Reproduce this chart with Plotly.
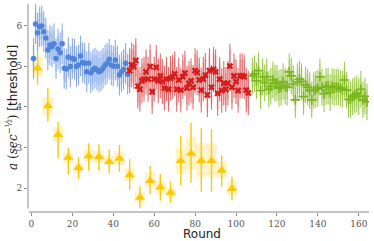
import plotly.graph_objects as go

# ---------------- data ----------------
blue_rounds = list(range(1, 48))
blue_vals = [5.19, 6.04, 5.82, 5.97, 5.99, 5.85, 5.69, 5.40, 5.52, 5.48,
             5.55, 5.19, 5.42, 5.33, 5.55, 4.95, 4.93, 5.22, 4.99, 5.19,
             5.17, 4.99, 5.03, 5.25, 5.09, 5.07, 4.86, 5.07, 4.84, 4.91,
             4.95, 4.91, 4.86, 4.89, 4.95, 5.03, 5.07, 5.17, 5.03, 5.00,
             5.15, 5.00, 4.78, 4.86, 4.92, 5.07, 4.80]
blue_err = 0.5
blue_band = 0.33

red_rounds = list(range(48, 107))
red_vals = [4.89, 5.03, 4.99, 5.14, 4.51, 4.43, 4.64, 4.68, 4.86, 4.68,
            4.99, 4.37, 4.68, 4.97, 4.64, 4.76, 4.62, 4.46, 4.68, 4.43,
            4.70, 4.74, 4.81, 4.43, 4.66, 4.41, 4.74, 4.83, 4.46, 4.58,
            4.64, 4.48, 4.89, 4.84, 4.66, 4.41, 4.68, 4.78, 4.29, 4.89,
            4.48, 4.92, 4.86, 4.33, 4.68, 4.40, 4.58, 4.43, 4.58, 5.00,
            4.48, 4.76, 4.62, 4.40, 4.76, 4.76, 4.74, 4.41, 4.34]
red_err = 0.55
red_band = 0.4

green_rounds = list(range(108, 165))
green_vals = [4.76, 4.81, 4.64, 4.89, 4.40, 4.74, 4.59, 4.74, 4.43, 4.50,
              4.66, 4.58, 4.58, 4.46, 4.48, 4.62, 4.51, 4.48, 4.86, 4.76,
              4.56, 4.17, 4.62, 4.68, 4.62, 4.25, 4.54, 4.48, 4.40, 4.17,
              4.40, 4.43, 4.46, 4.74, 4.48, 4.32, 4.50, 4.51, 4.35, 4.50,
              4.48, 4.48, 4.48, 4.46, 4.43, 4.66, 4.41, 4.18, 4.18, 4.25,
              4.29, 4.32, 4.25, 4.43, 4.17, 4.26, 4.12]
green_err = 0.45
green_band = 0.3

gold_rounds = list(range(3, 99, 5))
gold_vals = [4.95, 4.02, 3.31, 2.75, 2.50, 2.79, 2.77, 2.65, 2.73, 2.32,
             1.77, 2.18, 2.02, 1.89, 2.67, 2.85, 2.67, 2.67, 2.43, 1.98]
gold_band_lo = [4.75, 3.80, 3.14, 2.61, 2.37, 2.65, 2.62, 2.54, 2.57, 2.16,
                1.64, 2.02, 1.85, 1.77, 2.36, 2.46, 2.28, 2.28, 2.24, 1.83]
gold_band_hi = [5.22, 4.24, 3.50, 2.87, 2.62, 2.95, 2.92, 2.79, 2.90, 2.49,
                1.91, 2.38, 2.18, 2.02, 2.98, 3.25, 3.10, 3.10, 2.65, 2.16]
gold_line_lo = [4.55, 3.63, 2.73, 2.34, 2.22, 2.43, 2.43, 2.36, 2.40, 1.95,
                1.50, 1.85, 1.69, 1.64, 2.07, 2.13, 1.91, 1.91, 2.03, 1.70]
gold_line_hi = [5.35, 4.46, 3.63, 3.00, 2.76, 3.10, 3.08, 2.94, 3.06, 2.71,
                2.05, 2.54, 2.34, 2.16, 3.28, 3.61, 3.47, 3.45, 2.81, 2.28]

x_ticks = [0, 20, 40, 60, 80, 100, 120, 140, 160]
y_ticks = [2, 3, 4, 5, 6]

# ---------------- figure ----------------
fig = go.Figure()


def dense_series(rounds, vals, err, band, band_col, line_col, marker):
    fig.add_trace(go.Bar(
        x=rounds, y=[2 * band] * len(vals), base=[v - band for v in vals],
        width=1.0, marker=dict(color=band_col, line=dict(width=0)),
        hoverinfo="skip", showlegend=False))
    fig.add_trace(go.Scatter(
        x=rounds, y=vals, mode="markers", marker=marker,
        error_y=dict(type="constant", value=err, thickness=1.1, width=0,
                     color=line_col),
        showlegend=False))


dense_series(blue_rounds, blue_vals, blue_err, blue_band,
             "rgba(130,165,230,0.28)", "rgba(100,145,228,0.75)",
             dict(symbol="circle", size=5.5, color="#4f86db"))
dense_series(red_rounds, red_vals, red_err, red_band,
             "rgba(230,100,100,0.28)", "rgba(218,50,50,0.70)",
             dict(symbol="x", size=6, color="#d41d1d"))
dense_series(green_rounds, green_vals, green_err, green_band,
             "rgba(165,208,90,0.30)", "rgba(135,190,40,0.80)",
             dict(symbol="cross-thin", size=7,
                  line=dict(width=1.6, color="#7ab51d")))

# gold series
fig.add_trace(go.Bar(
    x=gold_rounds, y=[h - l for h, l in zip(gold_band_hi, gold_band_lo)],
    base=gold_band_lo, width=5.0,
    marker=dict(color="rgba(255,215,70,0.30)", line=dict(width=0)),
    hoverinfo="skip", showlegend=False))
fig.add_trace(go.Scatter(
    x=gold_rounds, y=gold_vals, mode="markers",
    marker=dict(symbol="triangle-up", size=9, color="#ffc800"),
    error_y=dict(type="data", symmetric=False,
                 array=[h - v for h, v in zip(gold_line_hi, gold_vals)],
                 arrayminus=[v - l for v, l in zip(gold_vals, gold_line_lo)],
                 thickness=1.4, width=0, color="#ffc800"),
    showlegend=False))

axis_col = "#8a8a8a"
tick_font = dict(family="DejaVu Serif", size=9, color="#555555")

fig.update_layout(
    width=374, height=241,
    margin=dict(l=28, r=5, t=4, b=29, autoexpand=False),
    paper_bgcolor="white", plot_bgcolor="white",
    barmode="overlay",
    xaxis=dict(range=[-1.7, 165], tickvals=x_ticks, showgrid=False,
               zeroline=False, showline=False, ticks="outside", ticklen=3,
               tickcolor=axis_col, tickfont=tick_font, automargin=False),
    yaxis=dict(range=[1.41, 6.53], tickvals=y_ticks, showgrid=False,
               zeroline=False, showline=False, ticks="outside", ticklen=3,
               tickcolor=axis_col, tickfont=tick_font, automargin=False),
    shapes=[
        dict(type="line", xref="paper", yref="paper", x0=0, x1=0,
             y0=0.017, y1=1, line=dict(color=axis_col, width=1)),
        dict(type="line", xref="paper", yref="paper", x0=0.002, x1=1,
             y0=0, y1=0, line=dict(color=axis_col, width=1)),
    ],
)

fig.add_annotation(
    text="Round", xref="paper", yref="paper", x=0.5, xshift=3,
    y=0, yshift=-22, showarrow=False, xanchor="center", yanchor="middle",
    borderpad=0,
    font=dict(family="DejaVu Sans", size=12, color="#222222"))

fig.add_annotation(
    text='<span style="font-family:DejaVu Serif"><i>a</i> (<i>sec</i><sup>−½</sup>)</span> [threshold]',
    xref="paper", yref="paper", x=0, xshift=-16, y=0.5, textangle=-90,
    showarrow=False, xanchor="center", yanchor="middle",
    font=dict(family="DejaVu Sans", size=12, color="#222222"))

fig.write_html("out.html",
               config={"displayModeBar": False},
               post_script="document.body.style.margin='0px';"
                           "document.body.style.overflow='hidden';")
